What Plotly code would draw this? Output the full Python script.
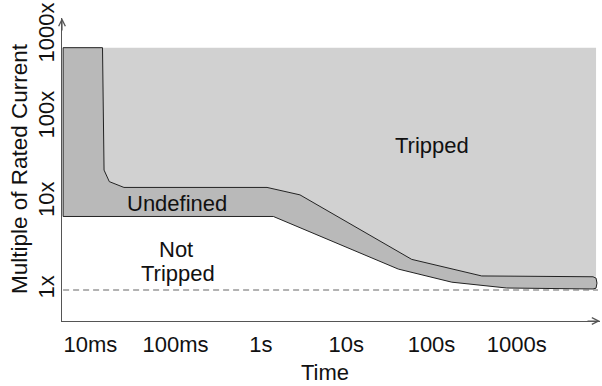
import plotly.graph_objects as go
import math

# ---- data (time in seconds, current in multiples of rated current) ----
trip_time = [0.0139, 0.0145, 0.0167, 0.0248, 1.18, 2.87, 58.6, 388, 7820]
trip_current = [610, 23.9, 17.6, 15.1, 15.1, 12.4, 2.25, 1.45, 1.42]

cap_time = [8490, 8710, 8490]
cap_current = [1.37, 1.20, 1.05]

safe_time = [7820, 762, 173, 40.8, 1.40, 0.0048]
safe_current = [1.027, 1.054, 1.23, 1.74, 7.0, 7.0]

band_top = 610
band_left = 0.0048
zone_right = 8490

rated_time = [0.0048, 8960]
rated_current = [1, 1]

x_tick_vals = [0.01, 0.1, 1, 10, 100, 1000]
x_tick_text = ["10ms", "100ms", "1s", "10s", "100s", "1000s"]
y_tick_vals = [1, 10, 100, 1000]
y_tick_text = ["1x", "10x", "100x", "1000x"]

FONT = "Liberation Sans, Arial, Helvetica, sans-serif"
LIGHT = "#d1d1d1"
DARK = "#b9b9b9"
FS = 22

fig = go.Figure()

# Tripped zone (light gray): top edge, right edge, back along trip curve
tz_x = [trip_time[0], zone_right, zone_right] + trip_time[::-1]
tz_y = [band_top, band_top, trip_current[-1]] + trip_current[::-1]
fig.add_trace(go.Scatter(x=tz_x, y=tz_y, mode="lines", fill="toself",
                         fillcolor=LIGHT, line=dict(width=0),
                         hoverinfo="skip", showlegend=False))

# Undefined band
bx = [band_left] + trip_time + cap_time + safe_time + [band_left]
by = [band_top] + trip_current + cap_current + safe_current + [band_top]
fig.add_trace(go.Scatter(x=bx, y=by, mode="lines", fill="toself",
                         fillcolor=DARK, line=dict(color="#222222", width=1),
                         hoverinfo="skip", showlegend=False))

# rated current dashed line
fig.add_trace(go.Scatter(x=rated_time, y=rated_current, mode="lines",
                         line=dict(color="#666666", width=1.2, dash="6px,4px"),
                         hoverinfo="skip", showlegend=False))

L, R, T, B = 62, 2, 18, 65
W, H = 602, 386
PW, PH = W - L - R, H - T - B

def lx(px):
    return -2 + (px - 90.3) / 85.3

def ly(py):
    return (290 - py) / 87

def paper_x(px):
    return (px - L) / PW

def paper_y(py):
    return (H - B - py) / PH

fig.update_layout(
    width=W, height=H,
    margin=dict(l=L, r=R, t=T, b=B),
    paper_bgcolor="white", plot_bgcolor="white",
    font=dict(family=FONT, size=FS, color="#111111"),
    xaxis=dict(type="log", range=[lx(62), lx(600)], showline=True,
               linecolor="#555555", linewidth=1.2, showgrid=False,
               zeroline=False, ticks="", tickvals=x_tick_vals,
               ticktext=x_tick_text, tickfont=dict(size=FS),
               ticklabelstandoff=3),
    yaxis=dict(type="log", range=[ly(321), ly(18)], showline=True,
               linecolor="#555555", linewidth=1.2, showgrid=False,
               zeroline=False, showticklabels=False, ticks=""),
)

ann_font = dict(family=FONT, size=FS, color="#111111")

# y tick labels (rotated); small per-label nudges as in the reference
y_label_shift = [2.5, 3, 1.5, -3.5]
for v, t, s in zip(y_tick_vals, y_tick_text, y_label_shift):
    fig.add_annotation(x=paper_x(46), xref="paper", y=math.log10(v), yref="y",
                       yshift=s, text=t, textangle=-90, showarrow=False,
                       font=ann_font, xanchor="center", yanchor="middle")

# axis titles
fig.add_annotation(x=paper_x(19), xref="paper", y=paper_y(169), yref="paper",
                   text="Multiple of Rated Current", textangle=-90,
                   showarrow=False, font=dict(family=FONT, size=22.5, color="#111111"),
                   xanchor="center", yanchor="middle")
fig.add_annotation(x=paper_x(325), xref="paper", y=paper_y(372), yref="paper",
                   text="Time", showarrow=False, font=ann_font,
                   xanchor="center", yanchor="middle")

# region labels
fig.add_annotation(x=lx(432), y=ly(145), text="Tripped", showarrow=False, font=ann_font)
fig.add_annotation(x=lx(177), y=ly(203), text="Undefined", showarrow=False, font=ann_font)
fig.add_annotation(x=lx(176), y=ly(249), text="Not", showarrow=False, font=ann_font)
fig.add_annotation(x=lx(178), y=ly(273), text="Tripped", showarrow=False, font=ann_font)

# axis arrows
fig.add_annotation(x=0, y=1, xref="paper", yref="paper", ax=0, ay=14,
                   showarrow=True, arrowhead=5, arrowsize=1.1, arrowwidth=1.2,
                   arrowcolor="#555555", text="")
fig.add_annotation(x=1, y=0, xref="paper", yref="paper", ax=-14, ay=0,
                   showarrow=True, arrowhead=5, arrowsize=1.1, arrowwidth=1.2,
                   arrowcolor="#555555", text="")

fig.write_html("out.html")
